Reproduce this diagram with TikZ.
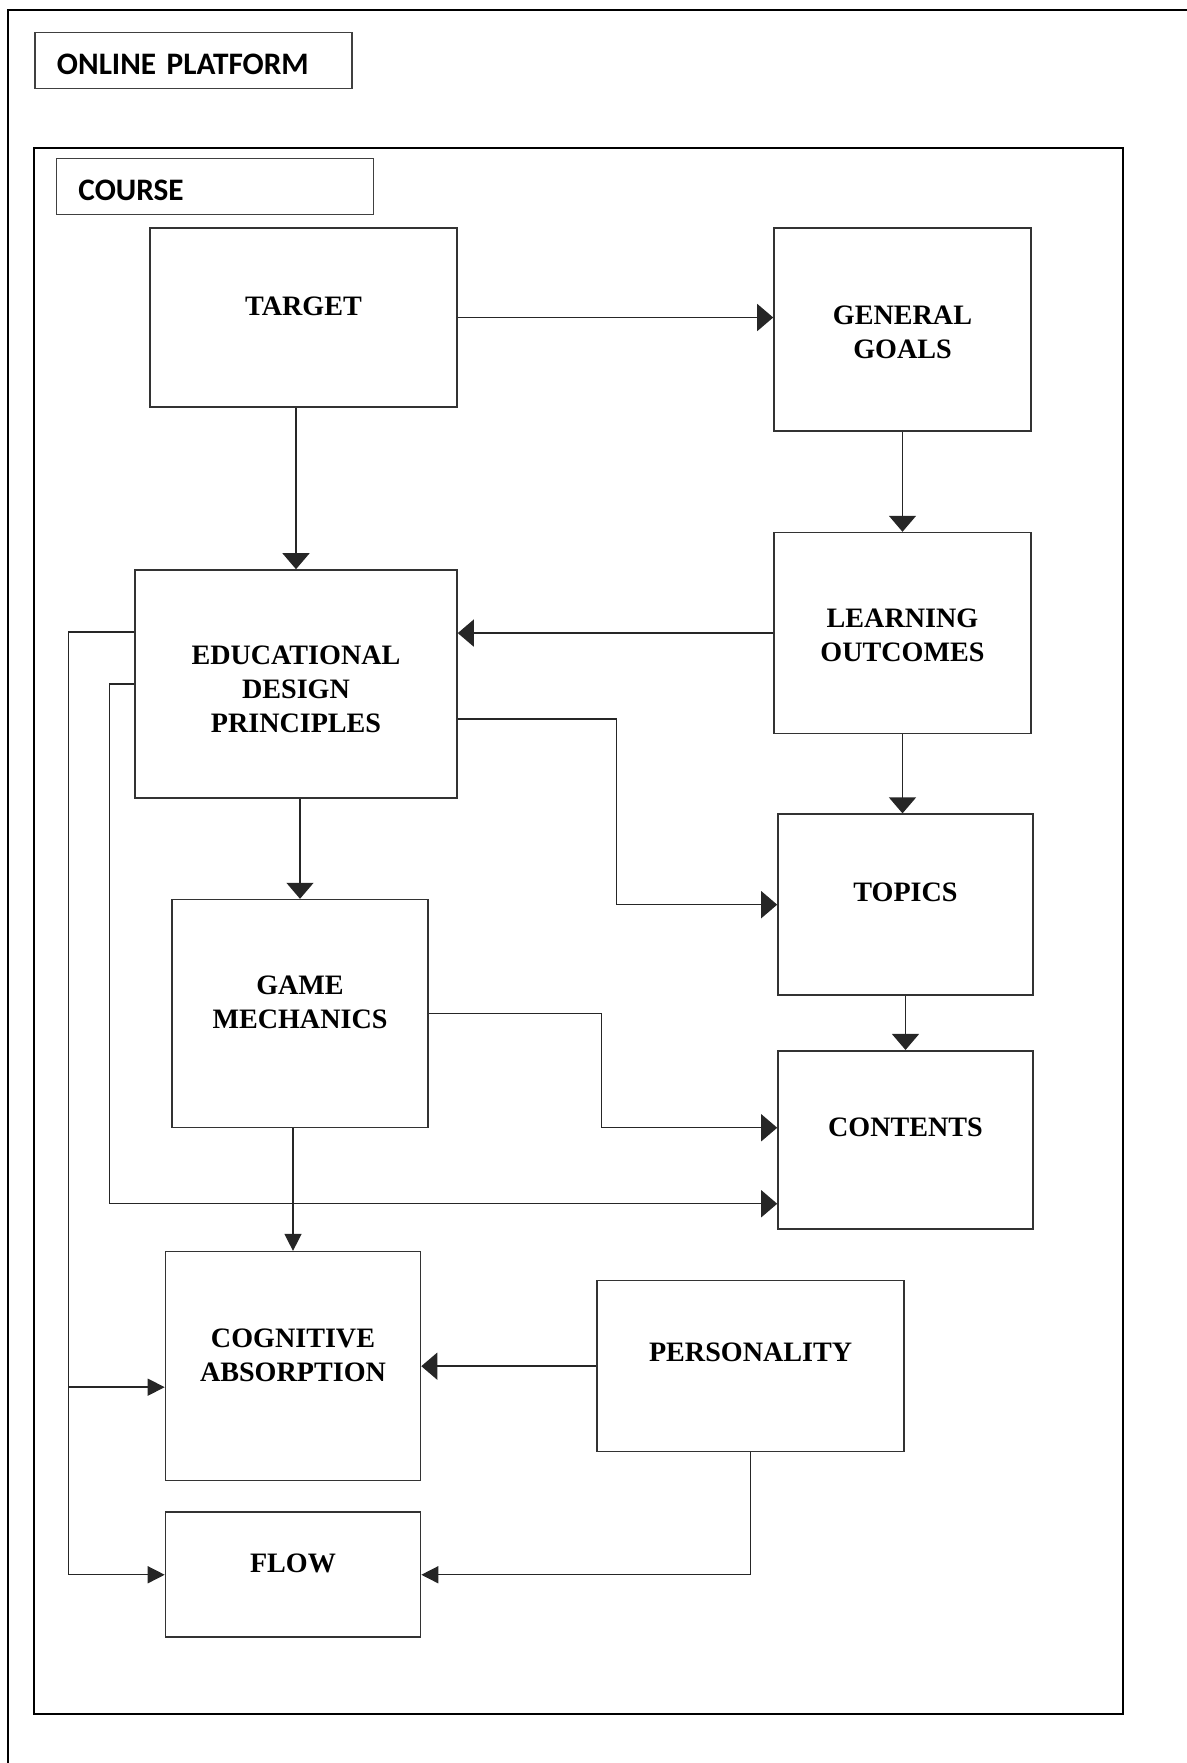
\documentclass[tikz,border=0pt]{standalone}
\usepackage{fontspec}
\setmainfont{Liberation Serif}
\newfontfamily\calibri{Carlito}
\usetikzlibrary{positioning,arrows.meta}

\begin{document}
\begin{tikzpicture}[
  frame/.style={draw=black, line width=1.4pt},
  tag/.style={draw=black!75, line width=1pt, minimum height=1.12cm, text width=5.46cm,
    text height=0.56cm, text depth=0cm,
    inner xsep=0.44cm, align=left, font=\calibri\bfseries\fontsize{17.8}{20}\selectfont},
  box/.style={draw=black!80, line width=0.9pt, inner sep=0pt},
  txt/.style={align=center, inner sep=0pt, font=\bfseries\fontsize{16}{19.5}\selectfont},
  arr/.style={draw=black!85, line width=0.8pt, -{Triangle[length=0.32cm, width=0.54cm]}},
  arrs/.style={draw=black!85, line width=0.8pt, -{Triangle[length=0.34cm, width=0.34cm]}},
]
\useasboundingbox (0,0) rectangle (23.74,-35.26);
% frames
\draw[frame] (0.16,-35.26) -- (0.16,-0.2) -- (23.74,-0.2);
\draw[frame] (0.68,-2.96) rectangle (22.46,-34.28);
\node[tag] (platform) at (3.87,-1.21) {ONLINE PLATFORM};
\node[tag] (course) at (4.30,-3.73) {COURSE};

% boxes
\node[box, minimum width=6.14cm, minimum height=3.58cm] (target) at (6.07,-6.35) {};
\node[box, minimum width=5.14cm, minimum height=4.06cm] (goals) at (18.05,-6.59) {};
\node[box, minimum width=5.14cm, minimum height=4.02cm, below=2.0cm of goals] (outcomes) {};
\node[box, minimum width=6.44cm, minimum height=4.56cm] (principles) at (5.92,-13.68) {};
\node[box, minimum width=5.10cm, minimum height=3.62cm, below=1.58cm of outcomes, xshift=0.06cm] (topics) {};
\node[box, minimum width=5.12cm, minimum height=4.56cm, below=2.0cm of principles, xshift=0.08cm] (mechanics) {};
\node[box, minimum width=5.10cm, minimum height=3.56cm, below=1.08cm of topics] (contents) {};
\node[box, minimum width=5.10cm, minimum height=4.58cm, below=2.45cm of mechanics, xshift=-0.14cm] (absorption) {};
\node[box, minimum width=5.10cm, minimum height=2.50cm, below=0.60cm of absorption] (flow) {};
\node[box, minimum width=6.14cm, minimum height=3.42cm, right=3.50cm of absorption] (personality) {};

% texts
\node[txt] (t-target) at ([yshift=0.23cm]target) {TARGET};
\node[txt] (t-goals) at ([yshift=-0.06cm]goals) {GENERAL\\GOALS};
\node[txt] (t-outcomes) at ([yshift=-0.05cm]outcomes) {LEARNING\\OUTCOMES};
\node[txt] (t-principles) at ([yshift=-0.11cm]principles) {EDUCATIONAL\\DESIGN\\PRINCIPLES};
\node[txt] (t-topics) at ([yshift=0.24cm]topics) {TOPICS};
\node[txt] (t-mechanics) at ([yshift=0.22cm]mechanics) {GAME\\MECHANICS};
\node[txt] (t-contents) at ([yshift=0.24cm]contents) {CONTENTS};
\node[txt] (t-absorption) at ([yshift=0.22cm]absorption) {COGNITIVE\\ABSORPTION};
\node[txt] (t-personality) at ([yshift=0.27cm]personality) {PERSONALITY};
\node[txt] (t-flow) at ([yshift=0.23cm]flow) {FLOW};

% connectors
\draw[arr] (target) -- (target -| goals.west);
\draw[arr] (target.south -| principles) -- (principles);
\draw[arr] (goals) -- (outcomes);
\draw[arr] (outcomes) -- (outcomes -| principles.east);
\draw[arr] (outcomes.south) -- (outcomes.south |- topics.north);
\draw[arr] ([yshift=-0.7cm]principles.east) -- ++(3.18,0) |- (topics.west);
\draw[arr] (principles.south -| mechanics) -- (mechanics);
\draw[arr] (topics) -- (contents);
\draw[arr] (mechanics.east) -- ++(3.46,0) |- ([yshift=0.24cm]contents.west);
\draw[arr] (principles.west) -- ++(-0.5,0) |- ([yshift=-1.28cm]contents.west);
\coordinate (absorption-in) at ([yshift=-0.42cm]absorption.west);
\draw[arrs] ([yshift=1.04cm]principles.west) -- ++(-1.32,0) coordinate (bus) |- (flow.west);
\draw[arrs] (bus |- absorption-in) -- (absorption-in);
\draw[arrs] (mechanics.south -| absorption) -- (absorption);
\draw[arr] (personality) -- (personality -| absorption.east);
\draw[arrs] (personality.south) |- (flow.east);
\end{tikzpicture}
\end{document}
